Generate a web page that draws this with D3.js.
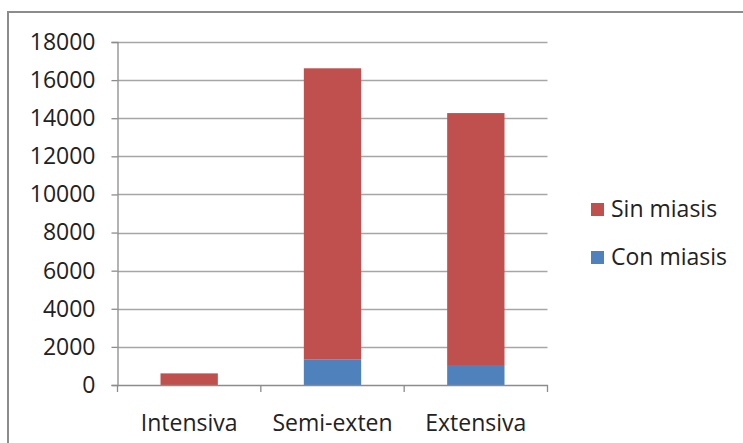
<!DOCTYPE html>
<html>
<head>
<meta charset="utf-8">
<script src="https://cdn.jsdelivr.net/npm/d3@7"></script>
<style>
  html, body { margin: 0; padding: 0; background: #fff; }
  svg { display: block; }
</style>
</head>
<body>
<svg id="chart" width="743" height="443"></svg>
<script>
const categories = ["Intensiva", "Semi-exten", "Extensiva"];
const conMiasis = [0, 1330, 1000];
const sinMiasis = [610, 15290, 13270];
const seriesNames = ["Con miasis", "Sin miasis"];
const seriesColors = ["#4F81BD", "#C0504D"];
const yTicks = [0, 2000, 4000, 6000, 8000, 10000, 12000, 14000, 16000, 18000];

(function () {
const svg = d3.select("#chart");
const font = "'Open Sans', sans-serif";

// outer frame
svg.append("rect")
  .attr("x", 8).attr("y", 12).attr("width", 800).attr("height", 500)
  .attr("fill", "none").attr("stroke", "#8c8c8c").attr("stroke-width", 2);

const pLeft = 117.5, pRight = 547.5, pTop = 42, pBottom = 385;
const x = d3.scaleBand().domain(categories).range([pLeft, pRight]).paddingInner(0.6).paddingOuter(0.3);
const xBand = d3.scaleBand().domain(categories).range([pLeft, pRight]).padding(0);
const y = d3.scaleLinear().domain([0, 18000]).range([pBottom, pTop]);

// gridlines
svg.append("g").selectAll("line").data(yTicks.filter(d => d > 0)).join("line")
  .attr("x1", pLeft).attr("x2", pRight)
  .attr("y1", d => Math.round(y(d)) + 0.5).attr("y2", d => Math.round(y(d)) + 0.5)
  .attr("stroke", "#a6a6a6").attr("stroke-width", 1.3);

// stacked bars
const data = categories.map((c, i) => ({cat: c, "Con miasis": conMiasis[i], "Sin miasis": sinMiasis[i]}));
const stack = d3.stack().keys(seriesNames)(data);
svg.append("g").selectAll("g").data(stack).join("g")
  .attr("fill", (d, i) => seriesColors[i])
  .selectAll("rect").data(d => d).join("rect")
  .attr("x", d => x(d.data.cat))
  .attr("width", x.bandwidth())
  .attr("y", d => y(d[1]))
  .attr("height", d => y(d[0]) - y(d[1]));

// y axis
const yAxis = d3.axisLeft(y).tickValues(yTicks).tickSize(6).tickPadding(16).tickFormat(d3.format("d"));
const gy = svg.append("g").attr("transform", `translate(${pLeft},0)`).call(yAxis);
gy.select(".domain").attr("stroke", "#8c8c8c").attr("stroke-width", 1.3);
gy.selectAll(".tick line").attr("stroke", "#8c8c8c").attr("stroke-width", 1.3);
gy.selectAll(".tick text").attr("font-family", font).attr("font-size", 23).attr("fill", "#222");

// x axis
const gx = svg.append("g").attr("transform", `translate(0,${pBottom})`)
  .call(d3.axisBottom(xBand).tickSize(0).tickPadding(30));
gx.select(".domain").attr("stroke", "#8c8c8c").attr("stroke-width", 1.3);
gx.selectAll(".tick text").attr("font-family", font).attr("font-size", 23).attr("fill", "#222");
// category boundary ticks
const bounds = [pLeft].concat(categories.map(c => xBand(c) + xBand.bandwidth()));
svg.append("g").selectAll("line").data(bounds).join("line")
  .attr("x1", d => d).attr("x2", d => d)
  .attr("y1", pBottom).attr("y2", pBottom + 7)
  .attr("stroke", "#8c8c8c").attr("stroke-width", 1.3);

// legend
const legendItems = [{name: "Sin miasis", color: seriesColors[1]}, {name: "Con miasis", color: seriesColors[0]}];
const lg = svg.append("g").selectAll("g").data(legendItems).join("g")
  .attr("transform", (d, i) => `translate(591,${209 + i * 48})`);
lg.append("rect").attr("x", 0).attr("y", -6).attr("width", 13).attr("height", 13).attr("fill", d => d.color);
lg.append("text").attr("x", 20).attr("y", 0).attr("dy", "0.35em")
  .attr("font-family", font).attr("font-size", 23).attr("fill", "#222")
  .text(d => d.name);
})();
</script>
</body>
</html>
